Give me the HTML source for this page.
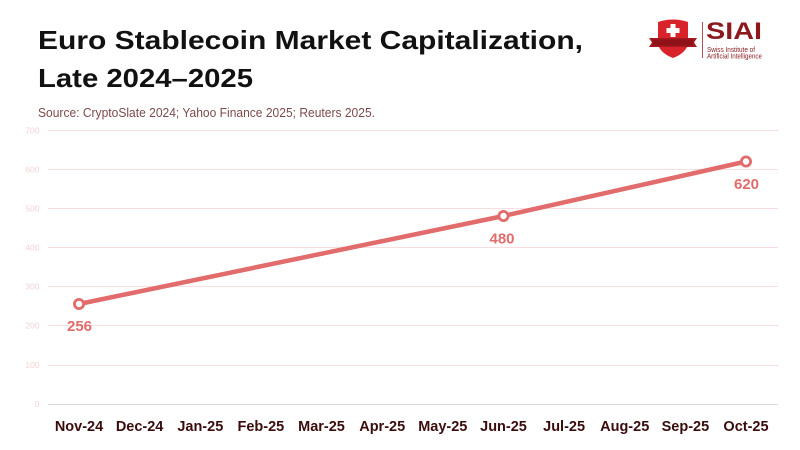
<!DOCTYPE html>
<html><head><meta charset="utf-8"><style>
html,body{margin:0;padding:0;background:#fff;}
svg{display:block;}
</style></head><body>
<svg width="800" height="450" viewBox="0 0 800 450" xmlns="http://www.w3.org/2000/svg" font-family="Liberation Sans, sans-serif">
<rect width="800" height="450" fill="#fff"/>
<!-- Title -->
<text x="38" y="49" font-size="26" font-weight="bold" fill="#111" textLength="545" lengthAdjust="spacingAndGlyphs">Euro Stablecoin Market Capitalization,</text>
<text x="38" y="87" font-size="26" font-weight="bold" fill="#111" textLength="215" lengthAdjust="spacingAndGlyphs">Late 2024–2025</text>
<text x="38" y="117" font-size="12.5" fill="#7d4b4b" textLength="337" lengthAdjust="spacingAndGlyphs">Source: CryptoSlate 2024; Yahoo Finance 2025; Reuters 2025.</text>

<!-- Logo -->
<g>
<path d="M658 22 Q673 17 688 22 L688 44 Q686 53 673 58 Q660 53 658 44 Z" fill="#d8232a"/>
<path d="M649 38 L697 38 L694 42.5 L697 47 L649 47 L652 42.5 Z" fill="#a51820"/>
<rect x="653" y="39.5" width="40" height="6" fill="#8e1218"/>
<rect x="670.5" y="24" width="5" height="13" fill="#fff"/>
<rect x="666.5" y="28" width="13" height="5" fill="#fff"/>
<rect x="702" y="22" width="1" height="36" fill="#b05050"/>
<text x="706" y="39" font-size="24.5" font-weight="bold" fill="#8b1a1f" textLength="56" lengthAdjust="spacingAndGlyphs">SIAI</text>
<text x="707" y="52" font-size="7" fill="#8b1a1f" textLength="48" lengthAdjust="spacingAndGlyphs">Swiss Institute of</text>
<text x="707" y="58.5" font-size="7" fill="#8b1a1f" textLength="55" lengthAdjust="spacingAndGlyphs">Artificial Intelligence</text>
</g>

<!-- Grid -->
<g stroke="#f8dede" stroke-width="1">
<line x1="48" x2="778" y1="130.5" y2="130.5"/>
<line x1="48" x2="778" y1="169.5" y2="169.5"/>
<line x1="48" x2="778" y1="208.5" y2="208.5"/>
<line x1="48" x2="778" y1="247.5" y2="247.5"/>
<line x1="48" x2="778" y1="286.5" y2="286.5"/>
<line x1="48" x2="778" y1="325.5" y2="325.5"/>
<line x1="48" x2="778" y1="365.5" y2="365.5"/>
</g>
<line x1="48" x2="778" y1="404.5" y2="404.5" stroke="#d9d9d9" stroke-width="1"/>
<g font-size="8.5" fill="#f4d4d4" text-anchor="end">
<text x="39.5" y="133.5">700</text>
<text x="39.5" y="172.5">600</text>
<text x="39.5" y="211.5">500</text>
<text x="39.5" y="250.5">400</text>
<text x="39.5" y="289.5">300</text>
<text x="39.5" y="328.5">200</text>
<text x="39.5" y="368">100</text>
<text x="39.5" y="407">0</text>
</g>

<!-- X labels -->
<g font-size="14.5" font-weight="bold" fill="#3a0c0c" text-anchor="middle">
<text x="79" y="431">Nov-24</text>
<text x="139.6" y="431">Dec-24</text>
<text x="200.3" y="431">Jan-25</text>
<text x="260.9" y="431">Feb-25</text>
<text x="321.5" y="431">Mar-25</text>
<text x="382.2" y="431">Apr-25</text>
<text x="442.8" y="431">May-25</text>
<text x="503.5" y="431">Jun-25</text>
<text x="564.1" y="431">Jul-25</text>
<text x="624.7" y="431">Aug-25</text>
<text x="685.4" y="431">Sep-25</text>
<text x="746" y="431">Oct-25</text>
</g>

<!-- Series -->
<polyline points="79,304 503.5,216 746,161.5" fill="none" stroke="#e26b6b" stroke-width="4.5" stroke-linejoin="round" stroke-linecap="round"/>
<g fill="#fff" stroke="#e26b6b" stroke-width="2.8">
<circle cx="79" cy="304" r="4.6"/>
<circle cx="503.5" cy="216" r="4.6"/>
<circle cx="746" cy="161.5" r="4.6"/>
</g>
<g font-size="15" font-weight="bold" fill="#e26b6b" text-anchor="middle">
<text x="79.5" y="331">256</text>
<text x="502" y="243.5">480</text>
<text x="746.5" y="189">620</text>
</g>
</svg>
</body></html>
